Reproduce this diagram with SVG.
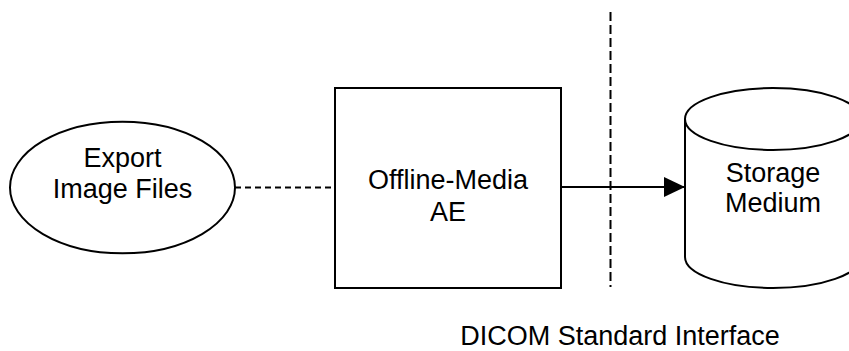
<svg xmlns="http://www.w3.org/2000/svg" width="849" height="351" viewBox="0 0 849 351">
<defs>
<style>
.shape{fill:#fff;stroke:#000;stroke-width:2}
.lbl{font-family:"Liberation Sans",Arial,sans-serif;font-size:27px;fill:#000;text-anchor:middle}
.conn{stroke:#000;stroke-width:2;fill:none}
</style>
<marker id="arrow" markerWidth="21" markerHeight="20" refX="21" refY="10" orient="auto" markerUnits="userSpaceOnUse">
<path d="M0,0 L21,10 L0,20 Z" fill="#000"/>
</marker>
</defs>
<rect width="849" height="351" fill="#fff"/>
<g id="connectors">
<line class="conn" x1="235" y1="187.5" x2="335" y2="187.5" stroke-dasharray="6,4"/>
<line class="conn" x1="561" y1="187" x2="685" y2="187" marker-end="url(#arrow)"/>
</g>
<g id="boundary">
<line class="conn" x1="610.5" y1="12" x2="610.5" y2="287" stroke-dasharray="9,4"/>
<text class="lbl" x="620" y="345">DICOM Standard Interface</text>
</g>
<g id="export">
<ellipse class="shape" cx="122.5" cy="187.5" rx="112.5" ry="65.8"/>
<text class="lbl" x="122.5" y="166.7">Export</text>
<text class="lbl" x="122.5" y="198.3">Image Files</text>
</g>
<g id="offline-media">
<rect class="shape" x="335" y="88" width="226" height="200"/>
<text class="lbl" x="448" y="189.3">Offline-Media</text>
<text class="lbl" x="448" y="221">AE</text>
</g>
<g id="storage">
<path class="shape" d="M685,119 A88,31 0 0 1 861,119 L861,257 A88,31 0 0 1 685,257 Z"/>
<path class="conn" d="M685,119 A88,31 0 0 0 861,119"/>
<text class="lbl" x="773" y="181.7">Storage</text>
<text class="lbl" x="773" y="212.3">Medium</text>
</g>
</svg>
